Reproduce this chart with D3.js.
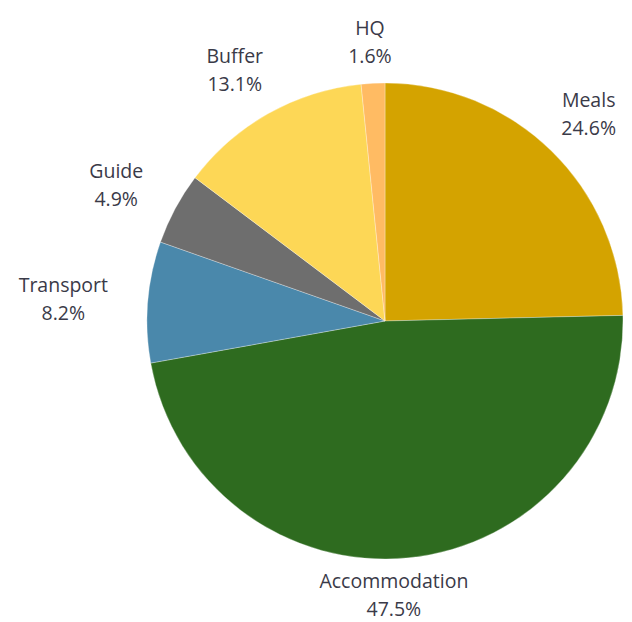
<!DOCTYPE html>
<html>
<head>
    <meta charset="utf-8" />
    <title>Budget split</title>
    <script src="https://d3js.org/d3.v7.min.js"></script>
    <style>
        body { margin: 0; background: #fff; }
        .lbl { font-family: "Open Sans", "Noto Sans", sans-serif; font-size: 19.5px; fill: #3a3a48; }
    </style>
</head>
<body>
    <svg width="632" height="622"></svg>
    <script>

        // slices, clockwise from 12 o'clock
        var categories = ["Meals", "Accommodation", "Transport", "Guide", "Buffer", "HQ"];
        var shares = [24.6, 47.5, 8.2, 4.9, 13.1, 1.6];
        var colours = ["#d4a300", "#2e6b1f", "#4a88ab", "#6e6e6e", "#fdd756", "#ffbb63"];

        var svg = d3.select("svg"),
            W = +svg.attr("width"),
            cx = 385, cy = 321,
            radius = 238,
            g = svg.append("g").attr("transform", "translate(" + cx + "," + cy + ")");

        var data = categories.map(function (c, i) { return { name: c, value: shares[i], colour: colours[i] }; });

        var pie = d3.pie().sort(null).value(function (d) { return d.value; });
        var arc = d3.arc().innerRadius(0).outerRadius(radius);

        var arcs = pie(data);

        g.selectAll("path.slice")
            .data(arcs)
            .enter().append("path")
            .attr("class", "slice")
            .attr("d", arc)
            .attr("fill", function (d) { return d.data.colour; })
            .attr("stroke", "#ffffff")
            .attr("stroke-opacity", 0.5)
            .attr("stroke-width", 0.6);

        // labels: two lines, pushed out along the mid angle.
        // sideways: rim + gap + half the text width (eased off near the bottom),
        // kept inside the right edge.
        var gapX = 40, lineH = 28;

        var lbl = g.selectAll("text.lbl")
            .data(arcs)
            .enter().append("text")
            .attr("class", "lbl")
            .attr("text-anchor", "middle");

        lbl.append("tspan").attr("x", 0).attr("dy", 0)
            .text(function (d) { return d.data.name; });
        lbl.append("tspan").attr("x", 0).attr("dy", lineH)
            .text(function (d) { return d.data.value.toFixed(1) + "%"; });

        lbl.attr("transform", function (d) {
            var a = (d.startAngle + d.endAngle) / 2;
            var s = Math.sin(a), c = Math.cos(a);
            var w = this.getBBox().width;
            var ease = c < 0 ? Math.min(1, Math.abs(s) * 2.5) : 1;
            var x = s * (radius + gapX + w / 2) * ease;
            x = Math.min(x, W - cx - 16 - w / 2);
            var gapY = (c > 0 ? 40 : 35) + 12 * Math.abs(Math.sin(2 * a));
            var y = -c * (radius + gapY);
            // y is the block centre; first baseline half a line above it plus ascent
            return "translate(" + x + "," + (y - lineH / 2 + 7) + ")";
        });

    </script>
</body>
</html>
